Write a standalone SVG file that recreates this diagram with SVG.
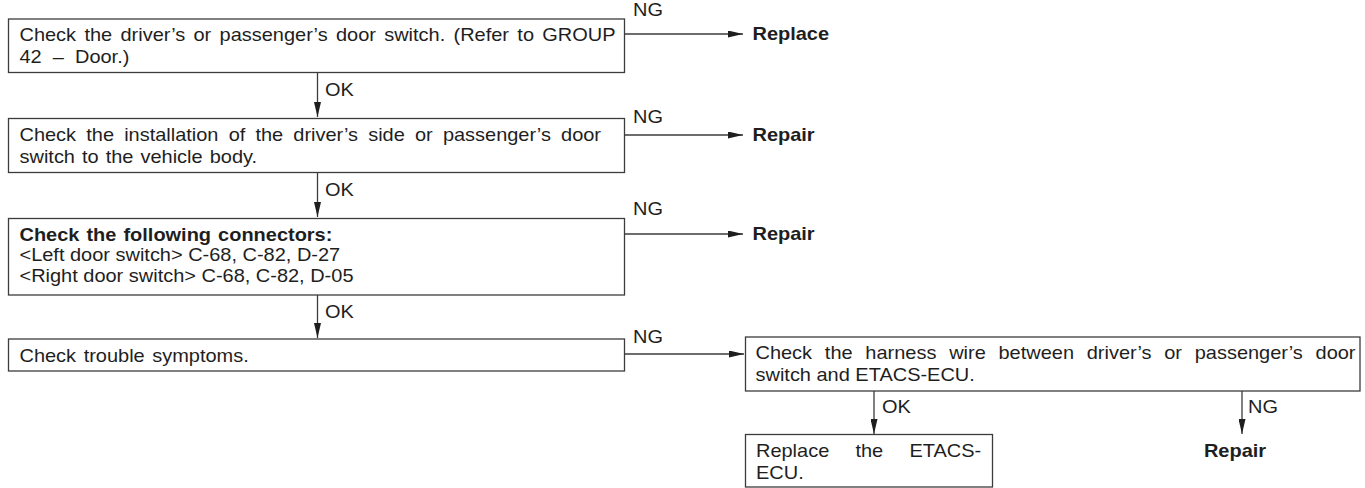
<svg xmlns="http://www.w3.org/2000/svg" width="1365" height="488" viewBox="0 0 1365 488">
<defs>
<style>
.box{fill:#fff;stroke:#3c3c3c;stroke-width:1.3}
.t{font-family:"Liberation Sans",Arial,sans-serif;font-size:18px;fill:#1e1e1e}
.b{font-weight:bold}
.ln{stroke:#3c3c3c;stroke-width:1.3;fill:none;marker-end:url(#ah)}
</style>
<marker id="ah" viewBox="0 0 15 7" refX="15" refY="3.5" markerWidth="15" markerHeight="7" markerUnits="userSpaceOnUse" orient="auto">
<path d="M0,0 L15,3.5 L0,7 z" fill="#1e1e1e"/>
</marker>
</defs>
<rect width="1365" height="488" fill="#fff"/>

<g id="connectors">
<line class="ln" x1="624.5" y1="34" x2="743" y2="34"/>
<line class="ln" x1="624.5" y1="135" x2="743" y2="135"/>
<line class="ln" x1="624.5" y1="234" x2="743" y2="234"/>
<line class="ln" x1="624.5" y1="354" x2="744" y2="354"/>
<line class="ln" x1="317.5" y1="72.5" x2="317.5" y2="117"/>
<line class="ln" x1="317.5" y1="172.5" x2="317.5" y2="217"/>
<line class="ln" x1="317.5" y1="295" x2="317.5" y2="338"/>
<line class="ln" x1="874" y1="391" x2="874" y2="434"/>
<line class="ln" x1="1242" y1="391" x2="1242" y2="434"/>
<text class="t" transform="translate(633 16) scale(1.11 1)">NG</text>
<text class="t" transform="translate(633 123) scale(1.11 1)">NG</text>
<text class="t" transform="translate(633 215) scale(1.11 1)">NG</text>
<text class="t" transform="translate(633 343) scale(1.11 1)">NG</text>
<text class="t" transform="translate(325 96) scale(1.11 1)">OK</text>
<text class="t" transform="translate(325 196) scale(1.11 1)">OK</text>
<text class="t" transform="translate(325 318) scale(1.11 1)">OK</text>
<text class="t" transform="translate(882 413) scale(1.11 1)">OK</text>
<text class="t" transform="translate(1248 413) scale(1.11 1)">NG</text>
</g>

<g id="n1">
<rect class="box" x="8.5" y="19" width="616" height="53.5"/>
<text class="t" transform="translate(19.5 41) scale(1.11 1)" word-spacing="2.5">Check the driver’s or passenger’s door switch. (Refer to GROUP</text>
<text class="t" transform="translate(19.5 63) scale(1.11 1)" xml:space="preserve">42  –  Door.)</text>
</g>
<g id="r1"><text class="t b" transform="translate(752.5 40) scale(1.11 1)">Replace</text></g>

<g id="n2">
<rect class="box" x="8.5" y="118.5" width="616" height="54"/>
<text class="t" transform="translate(19.5 140.5) scale(1.11 1)" word-spacing="4.15">Check the installation of the driver’s side or passenger’s door</text>
<text class="t" transform="translate(19.5 162.5) scale(1.11 1)" word-spacing="1.35">switch to the vehicle body.</text>
</g>
<g id="r2"><text class="t b" transform="translate(752.5 141) scale(1.11 1)">Repair</text></g>

<g id="n3">
<rect class="box" x="8.5" y="218.5" width="616" height="76.5"/>
<text class="t b" transform="translate(19.5 240.5) scale(1.11 1)" word-spacing="1.35">Check the following connectors:</text>
<text class="t" transform="translate(19.5 261) scale(1.11 1)">&lt;Left door switch&gt; C-68, C-82, D-27</text>
<text class="t" transform="translate(19.5 281.5) scale(1.11 1)">&lt;Right door switch&gt; C-68, C-82, D-05</text>
</g>
<g id="r3"><text class="t b" transform="translate(752.5 240) scale(1.11 1)">Repair</text></g>

<g id="n4">
<rect class="box" x="8.5" y="339" width="616" height="32"/>
<text class="t" transform="translate(19.5 361.5) scale(1.11 1)" word-spacing="1.8">Check trouble symptoms.</text>
</g>

<g id="n5">
<rect class="box" x="745.5" y="337" width="614.5" height="54"/>
<text class="t" transform="translate(755.5 359) scale(1.11 1)" word-spacing="6.5">Check the harness wire between driver’s or passenger’s door</text>
<text class="t" transform="translate(755.5 381) scale(1.11 1)">switch and ETACS-ECU.</text>
</g>

<g id="n6">
<rect class="box" x="745.5" y="434.5" width="247" height="52.5"/>
<text class="t" transform="translate(756 456.5) scale(1.11 1)" word-spacing="18.6">Replace the ETACS-</text>
<text class="t" transform="translate(756 478.5) scale(1.11 1)">ECU.</text>
</g>
<g id="r4"><text class="t b" transform="translate(1235 456.5) scale(1.11 1)" text-anchor="middle">Repair</text></g>
</svg>
